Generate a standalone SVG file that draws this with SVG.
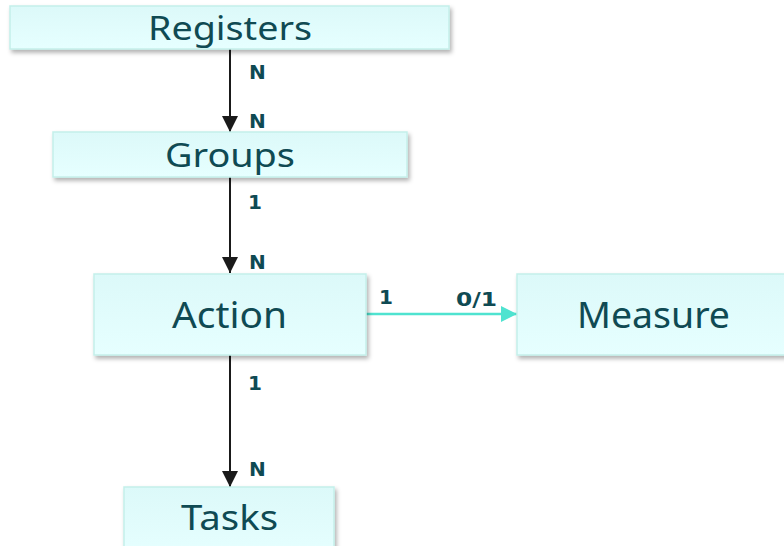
<svg xmlns="http://www.w3.org/2000/svg" width="784" height="546" viewBox="0 0 784 546">
<defs>
<linearGradient id="g" x1="0" y1="0" x2="0" y2="1"><stop offset="0" stop-color="#dcf9f9"/><stop offset="1" stop-color="#e6ffff"/></linearGradient>
<filter id="sh" x="-10%" y="-20%" width="120%" height="160%"><feDropShadow dx="2" dy="3" stdDeviation="2" flood-color="#000" flood-opacity="0.3"/></filter>
<marker id="ab" viewBox="0 0 10 10" refX="10" refY="5" markerWidth="16" markerHeight="16" markerUnits="userSpaceOnUse" orient="auto"><path d="M0,0 L10,5 L0,10 z" fill="#1a1a1a"/></marker>
<marker id="at" viewBox="0 0 10 10" refX="10" refY="5" markerWidth="16" markerHeight="16" markerUnits="userSpaceOnUse" orient="auto"><path d="M0,0 L10,5 L0,10 z" fill="#4fe3d0"/></marker>
<style>
.box{fill:url(#g);stroke:#c4efea;stroke-width:1.5;filter:url(#sh)}
.t{font-family:"Noto Sans","Open Sans",sans-serif;fill:#0f4a53}
.l{font-family:"DejaVu Sans","Noto Sans",sans-serif;font-weight:bold;font-size:20px;fill:#0f4a53}
</style>
</defs>
<g id="connectors">
<line x1="230" y1="49" x2="230" y2="132" stroke="#1a1a1a" stroke-width="2" marker-end="url(#ab)"/>
<line x1="230" y1="177" x2="230" y2="273" stroke="#1a1a1a" stroke-width="2" marker-end="url(#ab)"/>
<line x1="230" y1="355" x2="230" y2="487" stroke="#1a1a1a" stroke-width="2" marker-end="url(#ab)"/>
<line x1="366" y1="314" x2="517" y2="314" stroke="#4fe3d0" stroke-width="2.5" marker-end="url(#at)"/>
<text class="l" x="249" y="79">N</text>
<text class="l" x="249" y="128">N</text>
<text class="l" x="248" y="209">1</text>
<text class="l" x="249" y="269">N</text>
<text class="l" x="379" y="304">1</text>
<text class="l" x="456" y="306" textLength="41" lengthAdjust="spacingAndGlyphs">0/1</text>
<text class="l" x="248" y="390">1</text>
<text class="l" x="249" y="476">N</text>
</g>
<g id="registers"><rect class="box" x="10" y="6" width="439" height="43"/><text class="t" x="148" y="40" font-size="33" textLength="164" lengthAdjust="spacingAndGlyphs">Registers</text></g>
<g id="groups"><rect class="box" x="53" y="132" width="354" height="45"/><text class="t" x="165" y="167" font-size="33" textLength="130" lengthAdjust="spacingAndGlyphs">Groups</text></g>
<g id="action"><rect class="box" x="94" y="274" width="272" height="81"/><text class="t" x="172" y="328" font-size="36" textLength="115" lengthAdjust="spacingAndGlyphs">Action</text></g>
<g id="measure"><rect class="box" x="517" y="274" width="275" height="81"/><text class="t" x="577" y="328" font-size="36" textLength="153" lengthAdjust="spacingAndGlyphs">Measure</text></g>
<g id="tasks"><rect class="box" x="124" y="487" width="210" height="70"/><text class="t" x="181" y="530" font-size="35" textLength="97" lengthAdjust="spacingAndGlyphs">Tasks</text></g>
</svg>
